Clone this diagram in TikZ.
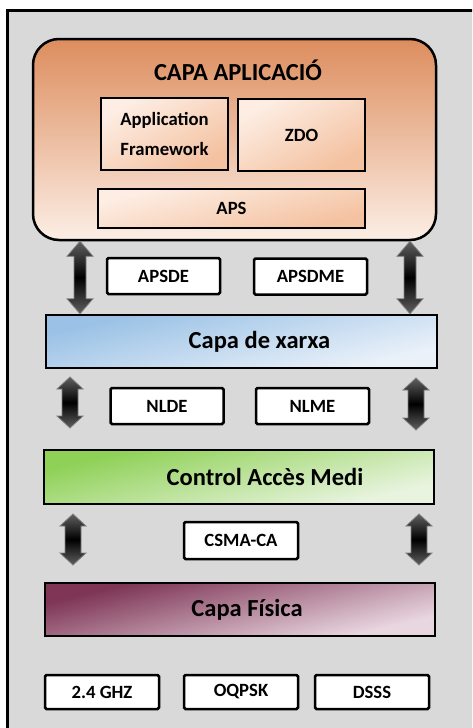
\documentclass[tikz,border=0pt]{standalone}
\usepackage{fontspec}
\setmainfont{Carlito}
\usetikzlibrary{calc}

\definecolor{bgGray}{HTML}{D9D9D9}
\definecolor{appTop}{HTML}{DD8D5E}
\definecolor{appBot}{HTML}{FCEEE5}
\definecolor{subLight}{HTML}{FDEDE3}
\definecolor{subDark}{HTML}{F4C2A1}
\definecolor{nwkDark}{HTML}{9BC2E6}
\definecolor{nwkLight}{HTML}{EAF1F9}
\definecolor{macDark}{HTML}{8FD157}
\definecolor{macLight}{HTML}{E9F4E0}
\definecolor{phyDark}{HTML}{7E3556}
\definecolor{phyLight}{HTML}{E9D7E0}

% fat double arrow from #1 (top) to #2 (bottom): shaft half width #3, head length #4
\newcommand\fatarrow[4]{%
  \path[fatarr] (#1) -- ($(#1)+(13,#4)$) -- ($(#1)+(#3,#4)$) -- ($(#2)+(#3,-#4)$)
    -- ($(#2)+(13,-#4)$) -- (#2) -- ($(#2)+(-13,-#4)$) -- ($(#2)+(-#3,-#4)$)
    -- ($(#1)+(-#3,#4)$) -- ($(#1)+(-13,#4)$) -- cycle;}

% diagonal fill of a box: left, top, width, height, dark colour, light colour, angle
\newcommand\diagfill[7]{%
  \shade[top color=#5,bottom color=#6,shading angle=#7,
    transform canvas={shift={(#1,#2)},xscale=#3/100,yscale=#4/100}] (0,0) rectangle (100,100);}

\begin{document}
\begin{tikzpicture}[x=1pt,y=-1pt,
  layer/.style={draw=black,line width=2.5pt,font=\fontsize{24.5}{28}\selectfont\bfseries,inner sep=0pt},
  subbox/.style={draw=black,line width=2.5pt,font=\fontsize{18.7}{30}\selectfont\bfseries,inner sep=0pt,align=center},
  tag/.style={draw=black,line width=2.5pt,rounded corners=1.5pt,fill=white,minimum width=113pt,minimum height=36pt,
    font=\fontsize{18.7}{22}\selectfont\bfseries,inner sep=0pt},
  fatarr/.style={draw=gray,line width=0.8pt,top color=gray!75!black,bottom color=gray!75!black,middle color=black}]
\useasboundingbox (0,0) rectangle (472,728);
\fill[white] (0,0) rectangle (472,728);
\begin{scope}
\clip (0,0) rectangle (472,728);
\draw[line width=2.5pt,fill=bgGray] (7.5,10.5) rectangle (490,745);
\end{scope}

% application layer
\node[draw=black,line width=2.5pt,rounded corners=26pt,top color=appTop,bottom color=appBot,
  minimum width=403pt,minimum height=201pt] (app) at (234.5,139.5) {};
\node[font=\fontsize{24.5}{28}\selectfont\bfseries] (apptitle) at (238,70) {CAPA APLICACIÓ};
\diagfill{101}{98}{127}{72}{subLight}{subDark}{45}
\diagfill{238}{98}{127}{72}{subLight}{subDark}{45}
\diagfill{98}{189}{267}{39}{subLight}{subDark}{60}
\node[subbox,minimum width=127pt,minimum height=72pt] (fw) at (164.5,134) {Application\\Framework};
\node[subbox,minimum width=127pt,minimum height=72pt] (zdo) at (301.5,135) {ZDO};
\node[subbox,minimum width=267pt,minimum height=39pt] (aps) at (231.5,208.5) {APS};

% service access points
\node[tag] (apsde) at (163.5,276) {APSDE};
\node[tag] (apsdme) at (310.5,276.5) {APSDME};
\node[tag] (nlde) at (167,406) {NLDE};
\node[tag] (nlme) at (312.5,406) {NLME};
\node[tag,minimum width=114pt,minimum height=37pt] (csma) at (241,540.5) {CSMA-CA};

% lower layers
\diagfill{46}{315}{391}{53}{nwkDark}{nwkLight}{60}
\diagfill{44}{450}{390}{54}{macDark}{macLight}{60}
\diagfill{45}{583}{390}{53}{phyDark}{phyLight}{60}
\node[layer,minimum width=391pt,minimum height=53pt] (nwk) at (241.5,341.5) {\hspace*{36pt}Capa de xarxa};
\node[layer,minimum width=390pt,minimum height=54pt] (mac) at (239,477) {\hspace*{52pt}Control Accès Medi};
\node[layer,minimum width=390pt,minimum height=53pt] (phy) at (240,609.5) {\hspace*{14pt}Capa Física};

% radio
\node[tag,minimum width=114pt,minimum height=34pt] (ghz) at (102,692) {2.4 GHZ};
\node[tag,minimum width=114pt,minimum height=34pt] (oqpsk) at (241,692) {OQPSK};
\node[tag,minimum width=114pt,minimum height=34pt] (dsss) at (372,692) {DSSS};

% arrows between layers
\coordinate (a1t) at (app.south -| 80,0);
\coordinate (a1b) at (nwk.north -| 80,0);
\coordinate (a2t) at (app.south -| 410,0);
\coordinate (a2b) at (nwk.north -| 410,0);
\coordinate (a3t) at (70,377);
\coordinate (a3b) at (70,428);
\coordinate (a4t) at (416,378);
\coordinate (a4b) at (416,430);
\coordinate (a5t) at (73,514);
\coordinate (a5b) at (73,565);
\coordinate (a6t) at (419,514);
\coordinate (a6b) at (419,565);
\fatarrow{a1t}{a1b}{6}{15}
\fatarrow{a2t}{a2b}{6}{15}
\fatarrow{a3t}{a3b}{8}{12}
\fatarrow{a4t}{a4b}{8}{12}
\fatarrow{a5t}{a5b}{8}{12}
\fatarrow{a6t}{a6b}{8}{12}
\end{tikzpicture}
\end{document}
